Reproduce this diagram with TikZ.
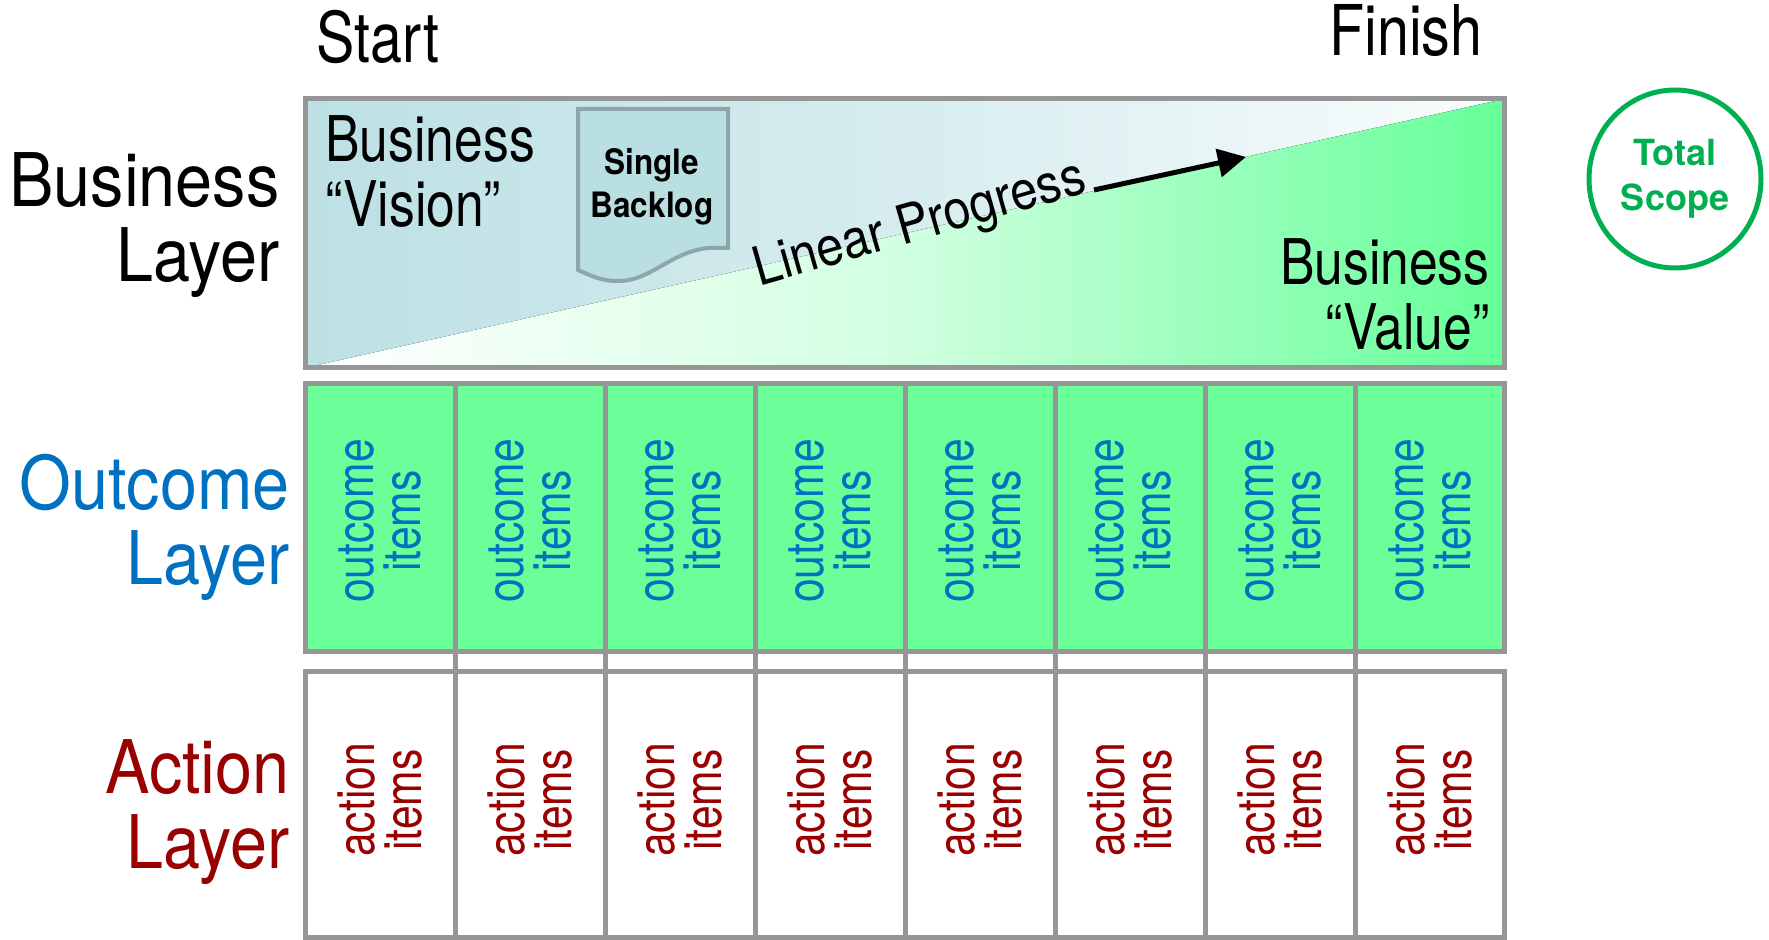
\documentclass[tikz,border=0pt]{standalone}
\usepackage{fontspec}
\setmainfont{TeX Gyre Heros}[FakeStretch=0.9]
\newfontfamily\narrowfont{TeX Gyre Heros}[FakeStretch=0.82]
\newfontfamily\plainfont{TeX Gyre Heros}
\usetikzlibrary{arrows.meta,shapes.geometric}
\definecolor{layergray}{HTML}{969696}
\definecolor{visionblue}{HTML}{BCE0E4}
\definecolor{valuegreen}{HTML}{66FF99}
\definecolor{outcomegreen}{HTML}{6BFF99}
\definecolor{outcomeblue}{HTML}{0070C0}
\definecolor{actionred}{HTML}{990000}
\definecolor{scopegreen}{HTML}{00B050}
\definecolor{backlogedge}{HTML}{8DA6AA}
\definecolor{backlogfill}{HTML}{B9DFE3}
\tikzset{
  layerbox/.style={draw=layergray,line width=2.5pt},
  layerlabel/.style={anchor=base east,align=right,inner sep=0pt,font=\fontsize{37}{37.5}\selectfont},
  itemtext/.style={rotate=90,align=center,inner sep=0pt,font=\narrowfont\fontsize{26}{23.5}\selectfont},
  boxtext/.style={align=left,inner sep=0pt,font=\narrowfont\fontsize{31.5}{32.5}\selectfont},
  endtext/.style={inner sep=0pt,font=\narrowfont\fontsize{35}{37.5}\selectfont}
}

\begin{document}
\begin{tikzpicture}[x=0.5pt,y=-0.5pt]
\useasboundingbox (0,0) rectangle (1769,940);
% business layer
\fill[left color=visionblue,right color=visionblue!8,middle color=visionblue!60] (305,99) rectangle (1504,368);
\fill[left color=white,right color=valuegreen,middle color=valuegreen!30] (305,368) -- (1504,99) -- (1504,368) -- cycle;
\draw[layerbox] (305,99) rectangle (1504,368);
\draw[draw=backlogedge,fill=backlogfill,line width=2pt] (578,109) -- (728,109) -- (728,248) -- (708,248)
  .. controls (670,252) and (650,282) .. (617,281) .. controls (600,281) and (590,275) .. (578,270) -- cycle;
% outcome and action layers
\fill[outcomegreen] (305,384) rectangle (1504,652);
\draw[layerbox] (305,384) rectangle (1504,652);
\draw[layerbox] (305,672) rectangle (1504,938);
\foreach \i in {1,...,7}
  \draw[layerbox] ({305+150*\i},384) -- ({305+150*\i},938);
\foreach \i in {0,...,7}{
  \node[itemtext,text=outcomeblue] (out\i) at ({380+150*\i},521) {outcome\\items};
  \node[itemtext,text=actionred] (act\i) at ({380+150*\i},800) {action\\items};
}
% labels (base = last line)
\node[endtext,anchor=base west] (start) at (316,63) {Start};
\node[endtext,anchor=base east] (finish) at (1483,56) {Finish};
\node[layerlabel] (bizlabel) at (280,282) {Business\\Layer};
\node[layerlabel,text=outcomeblue] (outlabel) at (290,585) {Outcome\\Layer};
\node[layerlabel,text=actionred] (actlabel) at (290,869) {Action\\Layer};
\node[boxtext,anchor=base west] (vision) at (325,227) {Business\\“Vision”};
\node[boxtext,align=right,anchor=base east] (value) at (1490,350) {Business\\“Value”};
\node[align=center,inner sep=0pt,anchor=base,font=\bfseries\fontsize{17.5}{21.5}\selectfont] (backlog) at (652,218) {Single\\Backlog};
\node[rotate=16,anchor=base,inner sep=0pt,font=\fontsize{27}{30}\selectfont] (progress) at (924,239) {Linear Progress};
\coordinate (progtail) at (1094,190);
\coordinate (progtip) at (1246,157);
\draw[line width=2.5pt,-{Triangle[length=14pt,width=14pt]}] (progtail) -- (progtip);
\node[ellipse,draw=scopegreen,line width=2.5pt,minimum width=86pt,minimum height=89pt,inner sep=0pt,
  align=center,text=scopegreen,font=\plainfont\bfseries\fontsize{18}{22.5}\selectfont] (scope) at (1675,179) {Total\\Scope};
\end{tikzpicture}
\end{document}
